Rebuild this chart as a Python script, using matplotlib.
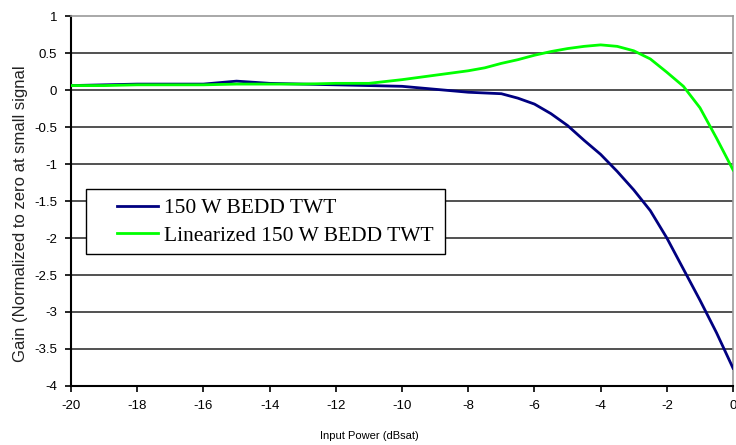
import matplotlib
matplotlib.use("Agg")
import matplotlib.pyplot as plt
from matplotlib.patches import Rectangle

# input power, dBsat (1 dB steps on the flat part, 0.5 dB where it bends)
power = [-20, -19, -18, -17, -16, -15, -14, -13, -12, -11, -10, -9, -8,
         -7.5, -7, -6.5, -6, -5.5, -5, -4.5, -4, -3.5, -3, -2.5, -2,
         -1.5, -1, -0.5, 0]

# gain of the plain tube
gain_twt = [0.06, 0.07, 0.08, 0.08, 0.08, 0.12, 0.09, 0.08, 0.07, 0.06, 0.05, 0.01, -0.03,
            -0.04, -0.05, -0.11, -0.19, -0.32, -0.48, -0.68, -0.87, -1.10, -1.35, -1.63, -2.00,
            -2.42, -2.84, -3.28, -3.76]

# gain of the linearized tube
gain_lin = [0.06, 0.06, 0.07, 0.07, 0.07, 0.08, 0.08, 0.08, 0.09, 0.09, 0.14, 0.20, 0.26,
            0.30, 0.36, 0.41, 0.47, 0.52, 0.56, 0.59, 0.61, 0.59, 0.53, 0.42, 0.24,
            0.05, -0.24, -0.65, -1.08]

x_ticks = list(range(-20, 1, 2))
y_ticks = [1, 0.5, 0, -0.5, -1, -1.5, -2, -2.5, -3, -3.5, -4]

plt.rcParams['font.family'] = ['Liberation Sans', 'DejaVu Sans']

fig = plt.figure(figsize=(7.36, 4.45), dpi=100)
ax = fig.add_axes([0.0965, 0.1326, 0.8995, 0.8314])

for y in y_ticks[1:-1]:
    ax.axhline(y, color='#333333', linewidth=1.2, zorder=1)

ax.plot(power, gain_twt, color='#000080', linewidth=2, label='150 W BEDD TWT', zorder=3)
ax.plot(power, gain_lin, color='#00ff00', linewidth=2, label='Linearized 150 W BEDD TWT', zorder=3)

ax.set_xlim(-20, 0)
ax.set_ylim(-4, 1)
ax.set_xticks(x_ticks)
ax.set_xticklabels([str(t) for t in x_ticks])
ax.set_yticks(y_ticks)
ax.set_yticklabels([f'{t:g}' for t in y_ticks])
ax.tick_params(direction='out', length=4, width=1.2, labelsize=9.5, pad=6)

for s in ['left', 'bottom']:
    ax.spines[s].set_color('black')
    ax.spines[s].set_linewidth(1.5)
for s in ['top', 'right']:
    ax.spines[s].set_color('#999999')
    ax.spines[s].set_linewidth(1.2)

ax.text(0.45, -0.135, 'Input Power (dBsat)', transform=ax.transAxes,
        fontsize=8, ha='center', va='center')
ax.text(-0.076, 0.465, 'Gain (Normalized to zero at small signal', transform=ax.transAxes,
        fontsize=12, ha='center', va='center', rotation=90, color='#222222')

# legend frame drawn separately so the entries can sit with a wide left margin
ax.add_patch(Rectangle((0.0227, 0.357), 0.542, 0.176, transform=ax.transAxes,
                       facecolor='white', edgecolor='black', linewidth=1.0, zorder=4))
leg = ax.legend(loc='center left', bbox_to_anchor=(0.0695, 0.443), frameon=False,
                prop={'family': 'Liberation Serif', 'size': 15.5}, handlelength=1.9,
                handletextpad=0.3, borderaxespad=0, labelspacing=0.35, borderpad=0)
leg.set_zorder(5)

plt.savefig('out.png', dpi=100)
plt.close()
